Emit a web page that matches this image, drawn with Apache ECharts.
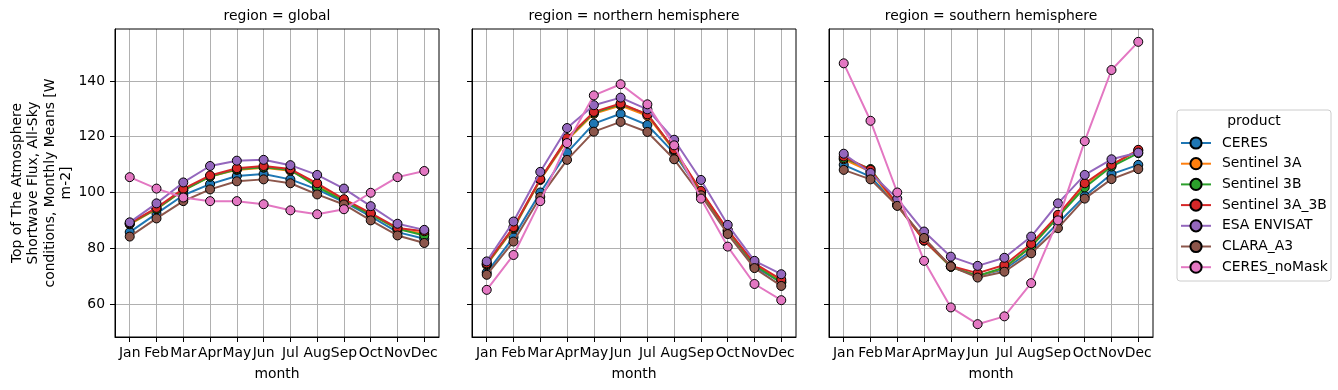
<!DOCTYPE html>
<html><head><meta charset="utf-8">
<script src="https://cdn.jsdelivr.net/npm/echarts@6/dist/echarts.min.js"></script>
<style>html,body{margin:0;padding:0;background:#fff}#c{width:1338px;height:390px}</style>
</head><body><div id="c"></div>
<script>
const months = ['Jan','Feb','Mar','Apr','May','Jun','Jul','Aug','Sep','Oct','Nov','Dec'];
const regions = ['global','northern hemisphere','southern hemisphere'];
const products = ['CERES','Sentinel 3A','Sentinel 3B','Sentinel 3A_3B','ESA ENVISAT','CLARA_A3','CERES_noMask'];
const colors = ['#1f77b4','#ff7f0e','#2ca02c','#d62728','#9467bd','#8c564b','#e377c2'];
const yTicks = [60,80,100,120,140];

// global
const globalCERES      = [85.8,92.4,99.0,103.0,105.9,106.6,104.7,101.1,96.6,91.4,85.8,83.4];
const globalS3A        = [88.6,94.0,100.8,105.7,108.1,108.9,107.8,102.7,97.2,92.2,86.9,85.2];
const globalS3B        = [88.8,94.1,100.8,105.7,108.3,109.0,108.1,102.0,97.0,92.2,87.0,84.6];
const globalS3A3B      = [89.0,94.5,101.3,106.1,108.7,109.5,108.4,103.3,97.6,92.6,87.3,86.1];
const globalENVISAT    = [89.3,96.1,103.6,109.5,111.4,111.7,109.8,106.3,101.4,95.1,88.8,86.6];
const globalCLARA      = [84.2,90.7,96.9,101.1,104.0,104.7,103.3,99.3,95.7,90.0,84.6,81.9];
const globalNoMask     = [105.5,101.4,98.2,96.9,96.9,95.8,93.6,92.2,94.0,99.9,105.5,107.7];
// northern hemisphere
const northCERES       = [71.3,84.0,100.0,114.3,124.7,128.2,124.2,114.1,99.9,85.5,73.4,67.8];
const northS3A         = [74.0,87.0,104.5,118.7,128.2,131.2,127.5,115.0,99.9,86.1,74.1,68.3];
const northS3B         = [74.3,87.3,104.7,119.2,128.6,131.6,128.1,115.3,100.2,86.4,74.0,67.7];
const northS3A3B       = [74.6,87.6,104.8,119.5,128.9,131.9,128.0,115.5,100.6,86.6,74.6,68.8];
const northENVISAT     = [75.3,89.6,107.4,123.1,131.3,134.0,129.8,118.9,104.5,88.4,75.5,70.7];
const northCLARA       = [70.5,82.4,98.4,111.7,121.8,125.3,121.7,111.9,99.0,85.1,72.9,66.5];
const northNoMask      = [65.1,77.6,96.9,117.7,134.8,138.8,131.6,116.9,97.8,80.6,67.2,61.4];
// southern hemisphere
const southCERES       = [109.9,105.7,95.4,82.8,73.4,70.1,72.5,79.1,89.0,98.7,106.6,109.9];
const southS3A         = [111.9,107.5,95.4,82.8,73.4,70.1,72.9,80.6,91.2,102.7,109.9,115.0];
const southS3B         = [112.3,108.4,95.7,83.0,73.4,70.1,73.1,80.6,91.2,101.8,109.3,114.1];
const southS3A3B       = [112.9,108.1,95.7,82.8,73.7,71.1,74.0,81.6,92.0,103.3,109.9,115.3];
const southENVISAT     = [113.9,107.0,97.8,86.0,77.0,73.7,76.6,84.2,96.1,106.3,111.9,114.3];
const southCLARA       = [108.1,104.7,95.2,83.7,73.5,69.5,71.6,78.2,87.2,97.8,104.8,108.4];
const southNoMask      = [146.3,125.7,100.0,75.5,58.8,52.8,55.6,67.5,90.0,118.4,143.9,154.0];

const panelData = [
  [globalCERES,globalS3A,globalS3B,globalS3A3B,globalENVISAT,globalCLARA,globalNoMask],
  [northCERES,northS3A,northS3B,northS3A3B,northENVISAT,northCLARA,northNoMask],
  [southCERES,southS3A,southS3B,southS3A3B,southENVISAT,southCLARA,southNoMask]
];

const FONT = 'DejaVu Sans';
const FS = 13.9;
const lefts = [115,472,829];
const W = 324, TOP = 29, H = 308;
const grids=[], xAxes=[], yAxes=[], series=[], graphics=[];
const monthIdx = months.map((m,i)=>i);
const evenIdx = monthIdx.filter(i=>i%2===0), oddIdx = monthIdx.filter(i=>i%2===1);
const labelStyle = {color:'#000',fontFamily:FONT,fontSize:FS,margin:9,
  showMinLabel:true,showMaxLabel:true,hideOverlap:false,formatter:v=>months[Math.round(v)]||''};
lefts.forEach((l,p)=>{
  grids.push({left:l, top:TOP, width:W, height:H, show:false});
  xAxes.push({type:'value', gridIndex:p, min:-0.55, max:11.55, position:'bottom', offset:0,
    axisLine:{show:true,onZero:false,lineStyle:{color:'#000',width:1}},
    axisTick:{show:true,length:5,lineStyle:{color:'#000'},customValues:monthIdx},
    axisLabel:Object.assign({show:true,customValues:evenIdx},labelStyle),
    splitLine:{show:true,lineStyle:{color:'#b0b0b0',width:1}},
    name:'month', nameLocation:'middle', nameGap:30,
    nameTextStyle:{color:'#000',fontFamily:FONT,fontSize:FS}
  });
  xAxes.push({type:'value', gridIndex:p, min:-0.55, max:11.55, position:'bottom', offset:0,
    axisLine:{show:false,onZero:false}, axisTick:{show:false}, splitLine:{show:false},
    axisLabel:Object.assign({show:true,customValues:oddIdx},labelStyle)
  });
  yAxes.push({type:'value', gridIndex:p, min:48.2, max:158.6,
    axisLine:{show:true,onZero:false,lineStyle:{color:'#000',width:1}},
    axisTick:{show:true,length:5,lineStyle:{color:'#000'},customValues:yTicks},
    axisLabel:{show:p===0,color:'#000',fontFamily:FONT,fontSize:FS,margin:10,customValues:yTicks},
    splitLine:{show:true,lineStyle:{color:'#b0b0b0',width:1}}
  });
  graphics.push({type:'rect',shape:{x:l,y:TOP,width:W,height:H},style:{fill:null,stroke:'#000',lineWidth:1},z:100,silent:true});
  graphics.push({type:'text',x:l+W/2,y:16,style:{text:'region = '+regions[p],fill:'#000',font:FS+'px "DejaVu Sans"',align:'center',verticalAlign:'middle'}});
  panelData[p].forEach((arr,k)=>{
    series.push({name:products[k], type:'line', xAxisIndex:2*p, yAxisIndex:p,
      data:arr.map((v,i)=>[i,v]), symbol:'circle', symbolSize:9,
      lineStyle:{color:colors[k],width:2}, itemStyle:{color:colors[k],borderColor:'#000',borderWidth:1},
      z:2+k*0.01, animation:false});
  });
});
graphics.push({type:'text',x:42,y:183,rotation:Math.PI/2,
  style:{text:'Top of The Atmosphere\nShortwave Flux, All-Sky\nconditions, Monthly Means [W\nm-2]',
    fill:'#000',font:FS+'px "DejaVu Sans"',align:'center',verticalAlign:'middle',lineHeight:16.5}});
graphics.push({type:'rect',shape:{x:1177,y:110,width:154,height:171,r:3},style:{fill:'#fff',stroke:'#cccccc',lineWidth:1},z:-1});
graphics.push({type:'text',x:1254,y:121,style:{text:'product',fill:'#000',font:FS+'px "DejaVu Sans"',align:'center',verticalAlign:'middle'}});

const chart = echarts.init(document.getElementById('c'),null,{renderer:'canvas'});
chart.setOption({
  animation:false,
  grid:grids, xAxis:xAxes, yAxis:yAxes, series:series, graphic:graphics,
  legend:{data:products, orient:'vertical', left:1180, top:136, padding:0, itemGap:6.7, itemWidth:30, itemHeight:14,
    textStyle:{color:'#000',fontFamily:FONT,fontSize:FS,lineHeight:14,padding:[0,0,0,6]}}
});
</script></body></html>
